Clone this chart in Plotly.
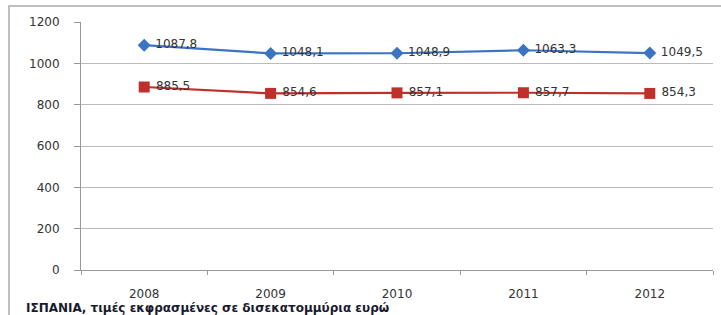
import plotly.graph_objects as go

years = ["2008", "2009", "2010", "2011", "2012"]
series_a = [1087.8, 1048.1, 1048.9, 1063.3, 1049.5]
series_b = [885.5, 854.6, 857.1, 857.7, 854.3]
labels_a = ["1087,8", "1048,1", "1048,9", "1063,3", "1049,5"]
labels_b = ["885,5", "854,6", "857,1", "857,7", "854,3"]
y_ticks = [0, 200, 400, 600, 800, 1000, 1200]
footer = "ΙΣΠΑΝΙΑ, τιμές εκφρασμένες σε δισεκατομμύρια ευρώ"

FONT = "DejaVu Sans"

fig = go.Figure()
fig.add_trace(go.Scatter(
    x=years, y=series_a, mode="lines+markers+text",
    text=[" " + t for t in labels_a], textposition="middle right",
    textfont=dict(family=FONT, size=12, color="#333333"),
    line=dict(color="#3b74c2", width=2.2),
    marker=dict(symbol="diamond", size=10, color="#3b74c2"),
    cliponaxis=False, showlegend=False,
))
fig.add_trace(go.Scatter(
    x=years, y=series_b, mode="lines+markers+text",
    text=[" " + t for t in labels_b], textposition="middle right",
    textfont=dict(family=FONT, size=12, color="#333333"),
    line=dict(color="#c0302b", width=2.2),
    marker=dict(symbol="square", size=11, color="#c0302b"),
    cliponaxis=False, showlegend=False,
))

fig.update_layout(
    width=721, height=315,
    margin=dict(l=81, r=8, t=22, b=45),
    paper_bgcolor="white", plot_bgcolor="white",
    font=dict(family=FONT, size=12, color="#333333"),
    xaxis=dict(
        type="category", range=[-0.5, 4.5], tickson="boundaries",
        ticks="outside", ticklen=4, tickcolor="#999999",
        showline=True, linecolor="#999999", linewidth=1,
        showgrid=False, ticklabelstandoff=13,
        tickfont=dict(family=FONT, size=12, color="#333333"),
    ),
    yaxis=dict(
        range=[0, 1200], tickvals=y_ticks, ticktext=[str(v) for v in y_ticks],
        ticks="outside", ticklen=6, tickcolor="#999999",
        showline=True, linecolor="#999999", linewidth=1,
        showgrid=True, gridcolor="#bbbbbb", gridwidth=1,
        zeroline=False, ticklabelstandoff=12,
        tickfont=dict(family=FONT, size=12, color="#333333"),
    ),
    shapes=[dict(
        type="rect", xref="paper", yref="paper",
        x0=-72 / 632, x1=1.05, y0=-0.4, y1=1 + 16 / 248,
        line=dict(color="#aaaaaa", width=1.5), layer="below",
    )],
    annotations=[dict(
        text="<b>" + footer + "</b>", xref="paper", yref="paper",
        x=-57 / 632, y=-38 / 248, xanchor="left", yanchor="middle",
        showarrow=False, font=dict(family=FONT, size=12, color="#1a1a2e"),
    )],
)

fig.write_html(
    "out.html",
    config={"displayModeBar": False},
    post_script="document.body.style.margin='0';document.body.style.overflow='hidden';",
)
